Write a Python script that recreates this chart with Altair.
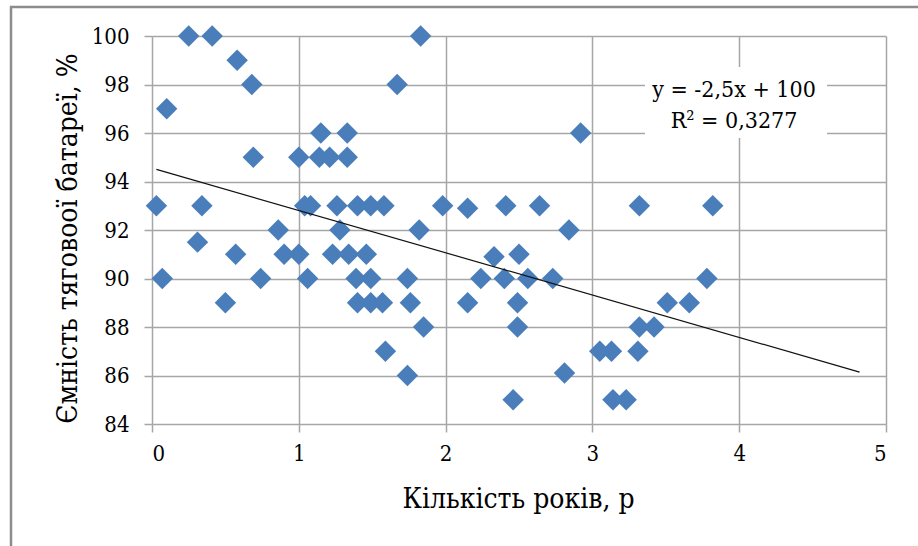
import altair as alt
import pandas as pd

# Data
years = [0.03, 0.07, 0.10, 0.25, 0.41, 0.34, 0.31, 0.50, 0.58, 0.57,
         0.68, 0.69, 0.74, 0.86, 0.90, 1.00, 1.00, 1.04, 1.08, 1.06,
         1.15, 1.14, 1.21, 1.33, 1.33, 1.26, 1.28, 1.23, 1.34, 1.40,
         1.49, 1.58, 1.39, 1.49, 1.40, 1.49, 1.57, 1.46, 1.59, 1.67,
         1.74, 1.76, 1.74, 1.82, 1.83, 1.85, 1.98, 2.15, 2.15, 2.24,
         2.33, 2.40, 2.41, 2.46, 2.50, 2.49, 2.49, 2.56, 2.64, 2.73,
         2.84, 2.81, 2.92, 3.05, 3.13, 3.14, 3.23, 3.32, 3.32, 3.42,
         3.31, 3.51, 3.66, 3.78, 3.82]
capacity = [93, 90, 97, 100, 100, 93, 91.5, 89, 99, 91,
            98, 95, 90, 92, 91, 91, 95, 93, 93, 90,
            96, 95, 95, 96, 95, 93, 92, 91, 91, 93,
            93, 93, 90, 90, 89, 89, 89, 91, 87, 98,
            90, 89, 86, 92, 100, 88, 93, 92.9, 89, 90,
            90.9, 90, 93, 85, 91, 89, 88, 90, 93, 90,
            92, 86.1, 96, 87, 87, 85, 85, 93, 88, 88,
            87, 89, 89, 90, 93]

trend_x = [0.03, 4.82]
trend_y = [94.50, 86.14]

eq_lines = ["y = -2,5x + 100", "R² = 0,3277"]
x_ticks = [0, 1, 2, 3, 4, 5]
y_ticks = [84, 86, 88, 90, 92, 94, 96, 98, 100]

pts = pd.DataFrame({"x": years, "y": capacity})
trend = pd.DataFrame({"x": trend_x, "y": trend_y})
one = pd.DataFrame({"a": [0]})

FONT_LABEL = "DejaVu Serif Condensed, DejaVu Serif"
FONT_TITLE = "DejaVu Serif Condensed, DejaVu Serif"
GRID = "#a6a6a6"

xs = alt.Scale(domain=[0, 5], nice=False, zero=False)
ys = alt.Scale(domain=[84, 100], nice=False, zero=False)

x_axis = alt.Axis(values=x_ticks, title="Кількість років, р", format="d",
                  titleX=366, titleY=83, titleBaseline="alphabetic",
                  titleAlign="center", labelFont=FONT_LABEL, titleFont=FONT_TITLE)
y_axis = alt.Axis(values=y_ticks, title="Ємність тяговоої батареї, %", format="d",
                  titleX=-76, titleY=202, titleBaseline="alphabetic",
                  titleAlign="center", titleAngle=-90,
                  labelFont=FONT_LABEL, titleFont=FONT_TITLE)

points = alt.Chart(pts).mark_point(
    shape="diamond", filled=True, size=460, color="#4A7EBB", opacity=1
).encode(
    x=alt.X("x:Q", scale=xs, axis=x_axis),
    y=alt.Y("y:Q", scale=ys, axis=y_axis),
)

line = alt.Chart(trend).mark_line(color="#111111", strokeWidth=1.2).encode(
    x=alt.X("x:Q", scale=xs),
    y=alt.Y("y:Q", scale=ys),
)

box = alt.Chart(one).mark_rect(color="white").encode(
    x=alt.value(493), x2=alt.value(675), y=alt.value(31), y2=alt.value(102)
)

label = alt.Chart(one).mark_text(
    font=FONT_TITLE, fontSize=23, color="black", align="center",
    baseline="alphabetic", lineHeight=31
).encode(
    x=alt.value(582), y=alt.value(61), text=alt.value(eq_lines)
)

frame = alt.Chart(one).mark_rect(
    fillOpacity=0, stroke="#8c8c8c", strokeWidth=2.5
).encode(
    x=alt.value(-141), x2=alt.value(780), y=alt.value(-29), y2=alt.value(525)
)

chart = alt.layer(frame, box, points, label, line).properties(
    width=734, height=388,
    autosize=alt.AutoSizeParams(type="none"),
    padding={"left": 152, "top": 36, "right": 32, "bottom": 122},
    background="white",
).configure_view(
    stroke="transparent"
).configure_axis(
    grid=True, gridColor=GRID, gridWidth=1.5, gridOpacity=1,
    domain=False, ticks=True, tickColor=GRID, tickWidth=1.5, tickSize=8,
    labelFontSize=22, labelColor="black",
    titleFontSize=28, titleFontWeight="normal", titleColor="black",
).configure_axisX(
    labelPadding=11
).configure_axisY(
    labelPadding=15
)

chart.save("out.html", embed_options={"renderer": "svg", "actions": False})
